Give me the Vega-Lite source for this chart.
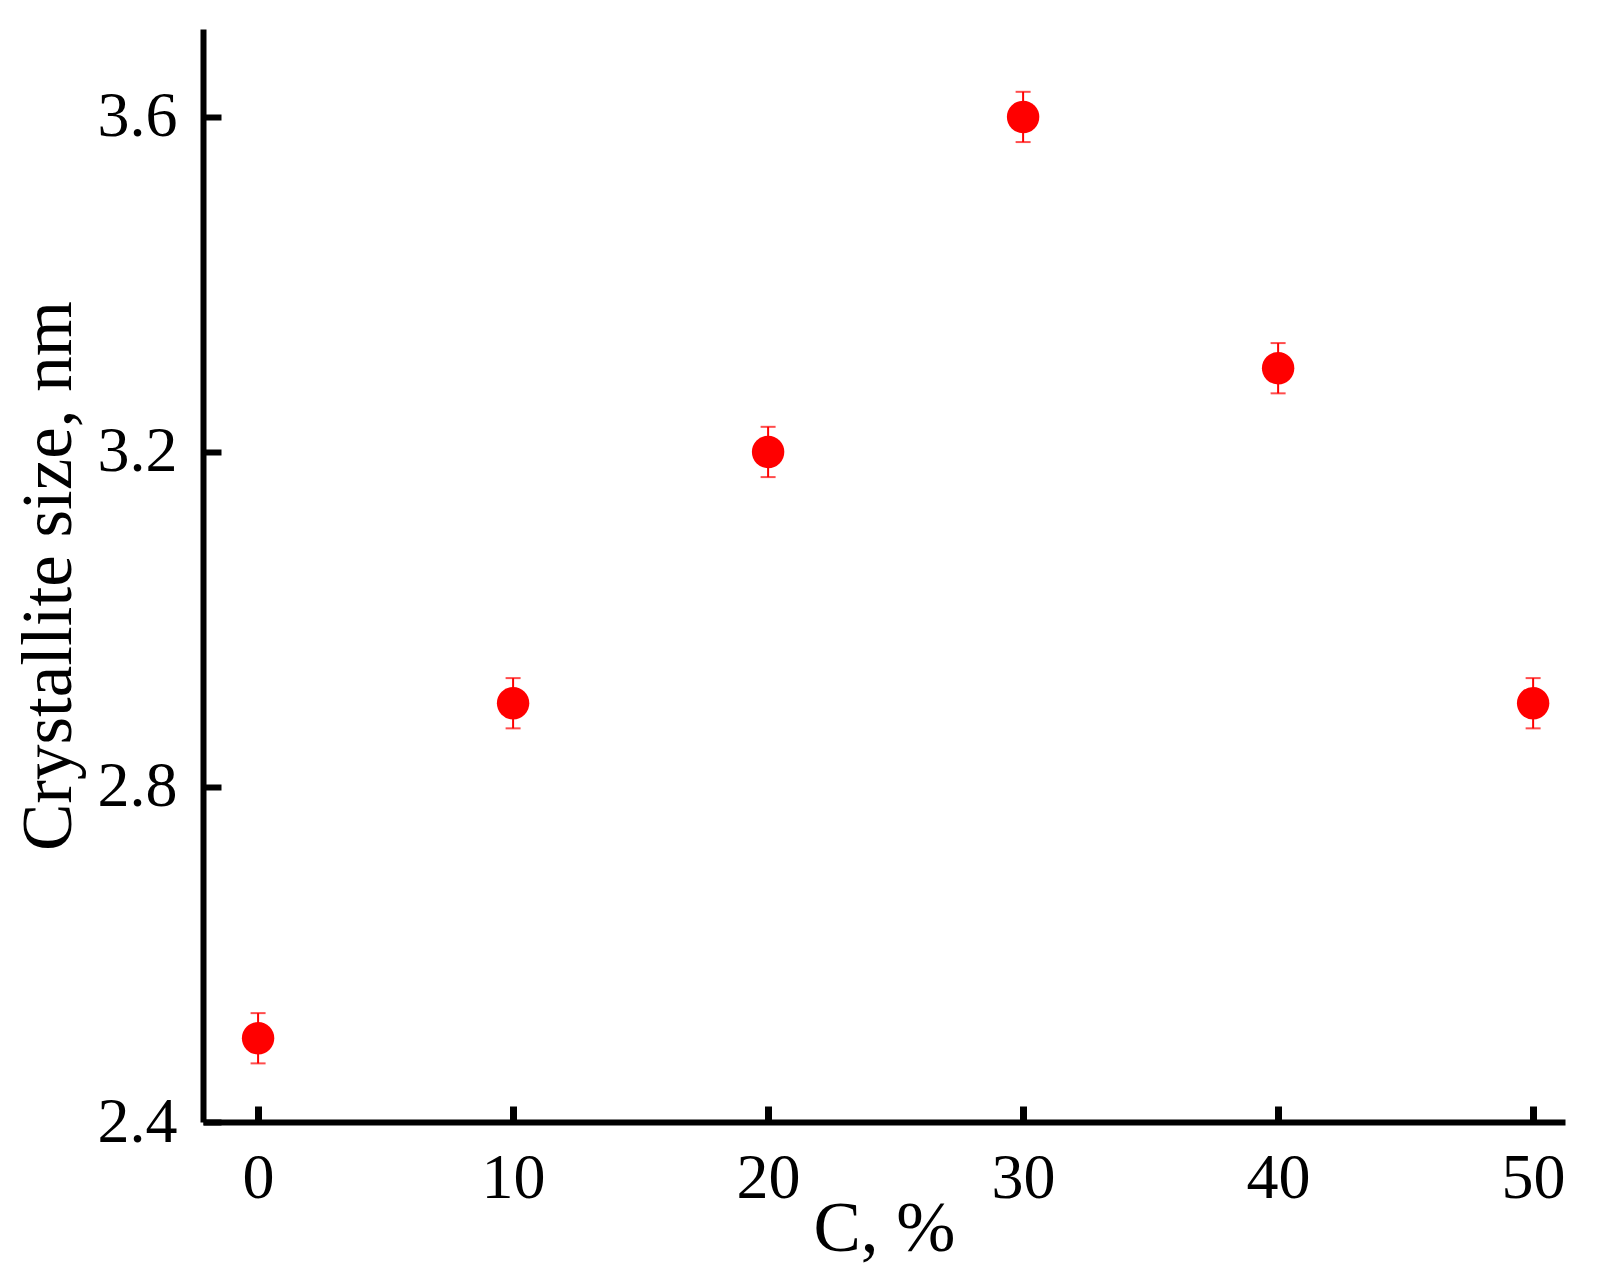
{
  "$schema": "https://vega.github.io/schema/vega-lite/v6.json",
  "width": 1362,
  "height": 1093,
  "autosize": {"type": "none"},
  "padding": {"left": 203, "top": 29, "right": 33, "bottom": 157},
  "background": "white",
  "config": {
    "view": {"stroke": null},
    "font": "Liberation Serif"
  },
  "data": {
    "values": [
      {"c": 0, "size": 2.5, "lo": 2.47, "hi": 2.53},
      {"c": 10, "size": 2.9, "lo": 2.87, "hi": 2.93},
      {"c": 20, "size": 3.2, "lo": 3.17, "hi": 3.23},
      {"c": 30, "size": 3.6, "lo": 3.57, "hi": 3.63},
      {"c": 40, "size": 3.3, "lo": 3.27, "hi": 3.33},
      {"c": 50, "size": 2.9, "lo": 2.87, "hi": 2.93}
    ]
  },
  "encoding": {
    "x": {
      "field": "c",
      "type": "quantitative",
      "scale": {"domain": [-2.16, 51.25], "nice": false, "zero": false},
      "axis": {
        "title": "C, %",
        "values": [0, 10, 20, 30, 40, 50],
        "grid": false,
        "domainColor": "black",
        "domainWidth": 6,
        "tickColor": "black",
        "tickWidth": 7,
        "tickSize": -16,
        "labelPadding": 40,
        "labelFont": "Liberation Serif",
        "labelFontSize": 64,
        "labelColor": "black",
        "labelFlush": false,
        "titleFont": "Liberation Serif",
        "titleFontSize": 71,
        "titleFontWeight": "normal",
        "titleColor": "black",
        "titlePadding": -16
      }
    }
  },
  "layer": [
    {
      "mark": {"type": "rule", "color": "#ff0000", "strokeWidth": 2},
      "encoding": {
        "y": {"field": "lo", "type": "quantitative"},
        "y2": {"field": "hi"}
      }
    },
    {
      "mark": {"type": "tick", "color": "#ff0000", "orient": "horizontal", "size": 15, "thickness": 2},
      "encoding": {"y": {"field": "lo", "type": "quantitative"}}
    },
    {
      "mark": {"type": "tick", "color": "#ff0000", "orient": "horizontal", "size": 15, "thickness": 2},
      "encoding": {"y": {"field": "hi", "type": "quantitative"}}
    },
    {
      "mark": {"type": "circle", "color": "#ff0000", "opacity": 1, "size": 1050},
      "encoding": {
        "y": {
          "field": "size",
          "type": "quantitative",
          "scale": {"domain": [2.4, 3.705], "nice": false, "zero": false},
          "axis": {
            "title": "Crystallite size, nm",
            "values": [2.4, 2.8, 3.2, 3.6],
            "format": ".1f",
            "grid": false,
            "domainColor": "black",
            "domainWidth": 6,
            "tickColor": "black",
            "tickWidth": 6,
            "tickSize": -18,
            "labelPadding": 44,
            "labelFont": "Liberation Serif",
            "labelFontSize": 64,
            "labelColor": "black",
            "titleFont": "Liberation Serif",
            "titleFontSize": 71,
            "titleFontWeight": "normal",
            "titleColor": "black",
            "titlePadding": 12
          }
        }
      }
    }
  ]
}
